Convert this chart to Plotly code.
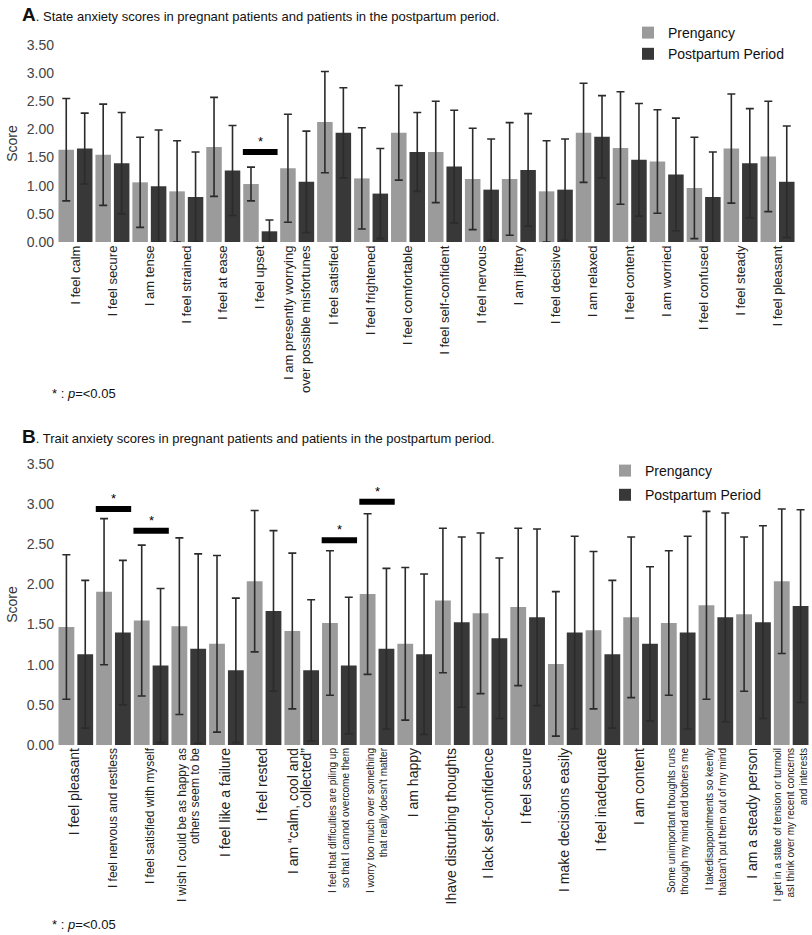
import plotly.graph_objects as go

# ---------------- Data ----------------
A_items = ["I feel calm", "I feel secure", "I am tense", "I feel strained", "I feel at ease",
           "I feel upset", "I am presently worrying over possible misfortunes", "I feel satisfied",
           "I feel frightened", "I feel comfortable", "I feel self-confident", "I feel nervous",
           "I am jittery", "I feel decisive", "I am relaxed", "I feel content", "I am worried",
           "I feel confused", "I feel steady", "I feel pleasant"]
A_labels = ["I feel calm", "I feel secure", "I am tense", "I feel strained", "I feel at ease",
            "I feel upset", "I am presently worrying<br>over possible misfortunes", "I feel satisfied",
            "I feel frightened", "I feel comfortable", "I feel self-confident", "I feel nervous",
            "I am jittery", "I feel decisive", "I am relaxed", "I feel content", "I am worried",
            "I feel confused", "I feel steady", "I feel pleasant"]
A_preg = [1.64, 1.55, 1.06, 0.90, 1.69, 1.03, 1.31, 2.13, 1.13, 1.94,
          1.60, 1.12, 1.12, 0.90, 1.94, 1.67, 1.43, 0.96, 1.66, 1.52]
A_preg_sd = [0.91, 0.90, 0.80, 0.90, 0.88, 0.30, 0.96, 0.90, 0.90, 0.84,
             0.90, 0.90, 1.00, 0.90, 0.88, 1.00, 0.92, 0.90, 0.97, 0.98]
A_post = [1.66, 1.40, 0.99, 0.80, 1.27, 0.19, 1.07, 1.94, 0.86, 1.60,
          1.34, 0.93, 1.28, 0.93, 1.87, 1.46, 1.20, 0.80, 1.40, 1.07]
A_post_sd = [0.63, 0.90, 1.00, 0.80, 0.80, 0.20, 0.90, 0.80, 0.80, 0.70,
             1.00, 0.90, 1.00, 0.90, 0.73, 1.00, 1.00, 0.80, 0.97, 0.99]
A_sig_items = ["I feel upset"]
A_sig_y = [1.60]

B_items = ["I feel pleasant", "I feel nervous and restless", "I feel satisfied with myself",
           "I wish I could be as happy as others seem to be", "I feel like a failure", "I feel rested",
           "I am calm, cool and collected", "I feel that difficulties are piling up",
           "I worry too much", "I am happy", "Ihave disturbing thoughts", "I lack self-confidence",
           "I feel secure", "I make decisions easily", "I feel inadequate", "I am content",
           "Some unimportant thoughts", "I takedisappointments so keenly", "I am a steady person",
           "I get in a state of tension or turmoil"]
B_labels = ["I feel pleasant", "I feel nervous and restless", "I feel satisfied with myself",
            "I wish I could be as happy as<br>others seem to be", "I feel like a failure", "I feel rested",
            "I am \u201ccalm, cool and<br>collected\u201d",
            "I feel that difficulties are piling up<br>so that I cannot overcome them",
            "I worry too much over something<br>that really doesn't matter", "I am happy",
            "Ihave disturbing thoughts", "I lack self-confidence", "I feel secure",
            "I make decisions easily", "I feel inadequate", "I am content",
            "Some unimportant thoughts runs<br>through my mind and bothers me",
            "I takedisappointments so keenly<br>thatcan't put them out of my mind",
            "I am a steady person",
            "I get in a state of tension or turmoil<br>asI think over my recent concerns<br>and interests"]
B_preg = [1.47, 1.91, 1.55, 1.48, 1.26, 2.04, 1.42, 1.52, 1.88, 1.26,
          1.80, 1.64, 1.72, 1.01, 1.43, 1.59, 1.52, 1.74, 1.63, 2.04]
B_preg_sd = [0.90, 0.91, 0.94, 1.10, 1.10, 0.88, 0.97, 0.90, 1.00, 0.95,
             0.90, 1.00, 0.98, 0.90, 0.98, 1.00, 0.90, 1.17, 0.96, 0.90]
B_post = [1.13, 1.40, 0.99, 1.20, 0.93, 1.67, 0.93, 0.99, 1.20, 1.13,
          1.53, 1.33, 1.59, 1.40, 1.13, 1.26, 1.40, 1.59, 1.53, 1.73]
B_post_sd = [0.92, 0.90, 0.96, 1.18, 0.90, 1.00, 0.88, 0.85, 1.00, 1.00,
             1.06, 1.00, 1.10, 1.20, 0.92, 0.96, 1.20, 1.30, 1.20, 1.20]
B_sig_items = ["I feel nervous and restless", "I feel satisfied with myself",
               "I feel that difficulties are piling up", "I worry too much"]
B_sig_y = [2.94, 2.67, 2.55, 3.03]

y_ticks = [0.0, 0.5, 1.0, 1.5, 2.0, 2.5, 3.0, 3.5]

# ---------------- Styles ----------------
B_label_sizes = [14, 12, 12, 12, 14, 14, 14, 10, 10, 14, 14, 14, 14, 14, 14, 14, 10, 10, 14, 10]
LIGHT = "#9b9b9b"
DARK = "#383838"
ERR = "#2b2b2b"
FONT = "Liberation Sans, Arial, sans-serif"
W, H = 812, 935


def styled(label, size):
    return "<br>".join(f"<span style='font-size:{size}px'>{ln}</span>" for ln in label.split("<br>"))


B_ticktext = [styled(l, s) for l, s in zip(B_labels, B_label_sizes)]

fig = go.Figure()

err = lambda arr: dict(type="data", array=arr, color=ERR, thickness=1.6, width=4)

fig.add_trace(go.Bar(x=A_items, y=A_preg, error_y=err(A_preg_sd), marker_color=LIGHT,
                     name="Prengancy", xaxis="x", yaxis="y", legend="legend", legendgroup="a"))
fig.add_trace(go.Bar(x=A_items, y=A_post, error_y=err(A_post_sd), marker_color=DARK,
                     name="Postpartum Period", xaxis="x", yaxis="y", legend="legend", legendgroup="a"))
fig.add_trace(go.Bar(x=B_items, y=B_preg, error_y=err(B_preg_sd), marker_color=LIGHT,
                     name="Prengancy", xaxis="x2", yaxis="y2", legend="legend2", legendgroup="b1"))
fig.add_trace(go.Bar(x=B_items, y=B_post, error_y=err(B_post_sd), marker_color=DARK,
                     name="Postpartum Period", xaxis="x2", yaxis="y2", legend="legend2", legendgroup="b2"))

fig.update_traces(marker_line=dict(width=0))

shapes = []
annotations = []


def add_sig(items, sig_items, sig_y, xref, yref):
    for it, yv in zip(sig_items, sig_y):
        i = items.index(it)
        shapes.append(dict(type="line", xref=xref, yref=yref, x0=i - 0.47, x1=i + 0.47,
                           y0=yv, y1=yv, line=dict(color="black", width=6)))
        annotations.append(dict(xref=xref, yref=yref, x=it, y=yv, text="*", showarrow=False,
                                yanchor="bottom", yshift=1, font=dict(size=13, color="black")))


add_sig(A_items, A_sig_items, A_sig_y, "x", "y")
add_sig(B_items, B_sig_items, B_sig_y, "x2", "y2")

annotations += [
    dict(xref="paper", yref="paper", x=20 / W, y=1 - 15 / H, xanchor="left", yanchor="middle",
         showarrow=False, font=dict(size=13, color="#111"),
         text="<span style='font-size:19px'><b>A</b></span>. State anxiety scores in pregnant patients and patients in the postpartum period."),
    dict(xref="paper", yref="paper", x=20 / W, y=1 - 436 / H, xanchor="left", yanchor="middle",
         showarrow=False, font=dict(size=13, color="#111"),
         text="<span style='font-size:19px'><b>B</b></span>. Trait anxiety scores in pregnant patients and patients in the postpartum period."),
    dict(xref="paper", yref="paper", x=50 / W, y=1 - 393 / H, xanchor="left", yanchor="middle",
         showarrow=False, font=dict(size=13, color="#111"), text="* : <i>p</i>=&lt;0.05"),
    dict(xref="paper", yref="paper", x=50 / W, y=1 - 924 / H, xanchor="left", yanchor="middle",
         showarrow=False, font=dict(size=13, color="#111"), text="* : <i>p</i>=&lt;0.05"),
]

xcommon = dict(showgrid=False, zeroline=False, showline=False, ticks="", tickangle=-90,
               automargin=False, type="category")
ycommon = dict(showgrid=False, zeroline=False, showline=False, ticks="", range=[0, 3.5],
               tickvals=y_ticks, tickformat=".2f", tickfont=dict(size=14, color="#444"),
               automargin=False, ticklabelstandoff=2,
               title=dict(text="Score", font=dict(size=14, color="#333333"), standoff=5))

fig.update_layout(
    width=W, height=H,
    margin=dict(l=0, r=0, t=0, b=0),
    template="none",
    paper_bgcolor="white", plot_bgcolor="white",
    font=dict(family=FONT, color="#222"),
    barmode="group", bargap=0.0, bargroupgap=0.16,
    xaxis=dict(xcommon, domain=[57 / W, 796 / W], anchor="y",
               tickvals=A_items, ticktext=A_labels, tickfont=dict(size=13, color="#222")),
    yaxis=dict(ycommon, domain=[1 - 242 / H, 1 - 45 / H], anchor="x"),
    xaxis2=dict(xcommon, domain=[57 / W, 810 / W], anchor="y2",
                tickvals=B_items, ticktext=B_ticktext, tickfont=dict(size=10, color="#222")),
    yaxis2=dict(ycommon, domain=[1 - 745 / H, 1 - 464 / H], anchor="x2"),
    legend=dict(x=628 / W, y=1 - 17 / H, xanchor="left", yanchor="top", bgcolor="rgba(0,0,0,0)",
                font=dict(size=14, color="#111"), tracegroupgap=0),
    legend2=dict(x=605 / W, y=1 - 455 / H, xanchor="left", yanchor="top", bgcolor="rgba(0,0,0,0)",
                 font=dict(size=14, color="#111"), tracegroupgap=3),
    shapes=shapes,
    annotations=annotations,
    showlegend=True,
)

fig.write_html("out.html", config={"displayModeBar": False},
               post_script="document.body.style.margin='0';document.body.style.overflow='hidden';")
